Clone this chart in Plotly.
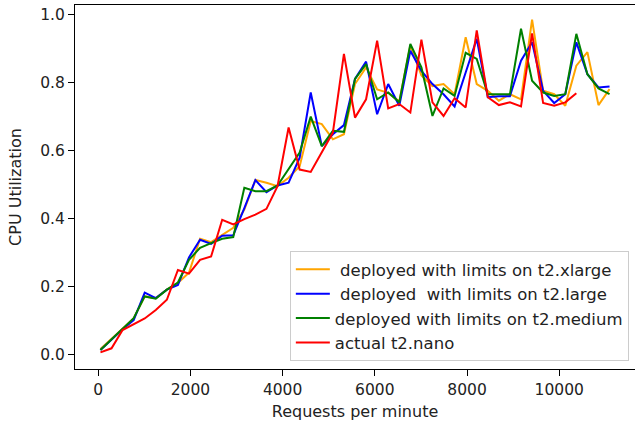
import plotly.graph_objects as go

# Requests per minute grid (step 240 starting at 50)
x_all = [50 + 240 * i for i in range(47)]
x_red = x_all[:44]

xlarge = [0.015, 0.045, 0.075, 0.105, 0.17, 0.165, 0.19, 0.21, 0.24, 0.34,
          0.33, 0.35, 0.372, 0.426, 0.513, 0.505, 0.495, 0.52, 0.554, 0.687,
          0.678, 0.633, 0.648, 0.796, 0.845, 0.78, 0.77, 0.745, 0.91, 0.821,
          0.79, 0.796, 0.766, 0.934, 0.796, 0.776, 0.747, 0.766, 0.751, 0.986,
          0.776, 0.766, 0.732, 0.85, 0.89, 0.734, 0.781]

large = [0.012, 0.043, 0.073, 0.10, 0.181, 0.165, 0.19, 0.204, 0.285, 0.337,
         0.325, 0.349, 0.35, 0.43, 0.513, 0.477, 0.497, 0.505, 0.579, 0.771,
         0.613, 0.648, 0.675, 0.811, 0.862, 0.707, 0.796, 0.732, 0.894, 0.835,
         0.796, 0.766, 0.730, 0.830, 0.929, 0.757, 0.76, 0.76, 0.865, 0.919,
         0.776, 0.740, 0.766, 0.919, 0.825, 0.786, 0.789]

medium = [0.012, 0.043, 0.073, 0.106, 0.17, 0.163, 0.19, 0.211, 0.278, 0.313,
          0.327, 0.34, 0.345, 0.49, 0.48, 0.48, 0.497, 0.544, 0.594, 0.70,
          0.613, 0.658, 0.655, 0.811, 0.855, 0.751, 0.771, 0.742, 0.914, 0.845,
          0.702, 0.783, 0.761, 0.888, 0.870, 0.766, 0.766, 0.766, 0.959, 0.806,
          0.771, 0.761, 0.766, 0.944, 0.825, 0.783, 0.766]

nano = [0.005, 0.017, 0.071, 0.089, 0.105, 0.130, 0.160, 0.248, 0.237, 0.278,
        0.288, 0.396, 0.382, 0.398, 0.411, 0.428, 0.495, 0.668, 0.544, 0.537,
        0.594, 0.653, 0.885, 0.697, 0.751, 0.924, 0.724, 0.737, 0.712, 0.927,
        0.742, 0.702, 0.754, 0.727, 0.954, 0.757, 0.734, 0.742, 0.730, 0.945,
        0.740, 0.732, 0.742, 0.769]

names = ["\u00a0deployed with limits on t2.xlarge",
         "\u00a0deployed\u00a0\u00a0with limits on t2.large",
         "deployed with limits on t2.medium",
         "actual t2.nano"]
colors = ["#FFA500", "#0000FF", "#008000", "#FF0000"]

x_ticks = [0, 2000, 4000, 6000, 8000, 10000]
y_ticks = [0.0, 0.2, 0.4, 0.6, 0.8, 1.0]

fig = go.Figure()
for xs, ys, nm, c in zip([x_all, x_all, x_all, x_red],
                         [xlarge, large, medium, nano], names, colors):
    fig.add_trace(go.Scatter(x=xs, y=ys, mode="lines", name=nm,
                             line=dict(color=c, width=2)))

font_color = "#222222"
fig.update_layout(
    width=635, height=425,
    margin=dict(l=75, r=0, t=5, b=56, autoexpand=False),
    paper_bgcolor="white", plot_bgcolor="white",
    font=dict(family="DejaVu Sans", size=16, color=font_color),
    showlegend=True,
    legend=dict(x=0.989, y=0.022, xanchor="right", yanchor="bottom",
                bgcolor="rgba(255,255,255,0.8)", bordercolor="#cccccc",
                borderwidth=1, font=dict(size=16.5, color=font_color),
                itemwidth=34, tracegroupgap=0),
)
fig.update_xaxes(range=[-502, 11642], tickvals=x_ticks,
                 ticktext=[str(v) for v in x_ticks], automargin=False,
                 showgrid=False, zeroline=False, showline=True,
                 linecolor="black", linewidth=1.2, mirror=True,
                 ticks="outside", ticklen=6, tickcolor="black",
                 tickfont=dict(size=15.5, color=font_color),
                 title=dict(text="Requests per minute", standoff=8,
                            font=dict(size=16, color=font_color)))
fig.update_yaxes(range=[-0.044, 1.029], tickvals=y_ticks,
                 ticktext=["%.1f" % v for v in y_ticks], automargin=False,
                 showgrid=False, zeroline=False, showline=True,
                 linecolor="black", linewidth=1.2, mirror=False,
                 ticks="outside", ticklen=6, tickcolor="black",
                 tickfont=dict(size=15.5, color=font_color),
                 title=dict(text="CPU Utilization", standoff=14,
                            font=dict(size=16, color=font_color)))

fig.write_html("out.html", config={"displayModeBar": False},
               post_script="document.body.style.margin='0';")
